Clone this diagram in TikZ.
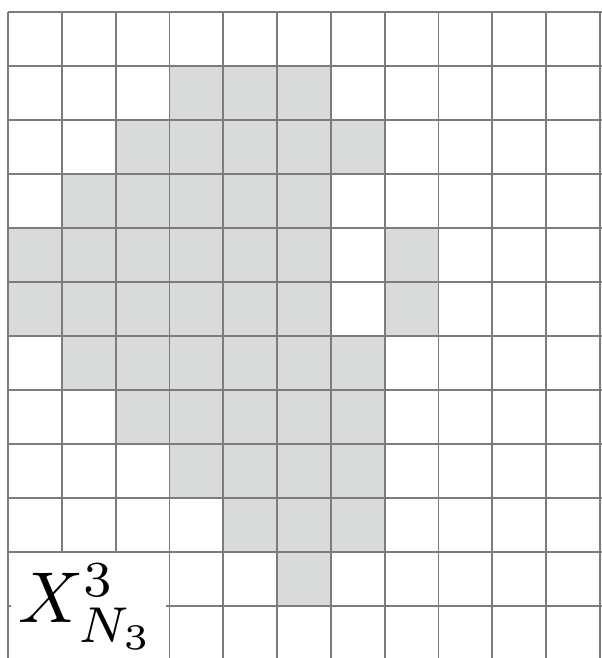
\documentclass[tikz,border=0pt]{standalone}
\usepackage{xcolor,tikz}
\usetikzlibrary{positioning}
\definecolor{GridLine}{HTML}{7C7C7C}
\definecolor{CellFill}{HTML}{D9DBDB}
\tikzset{gridline/.style={draw=GridLine,line width=1.8pt},
 cell/.style={fill=CellFill},
 labelbox/.style={fill=white},
 setlabel/.style={inner sep=0pt,anchor=base west}}
\begin{document}
\begin{tikzpicture}[x=53.8pt,y=-54pt]
\useasboundingbox (-0.149,-0.222) rectangle (11.022,11.963);
% Cells that belong to the set, row by row (first/last column).
\foreach \r/\a/\b in {1/3/5,2/2/6,3/1/5,4/0/5,5/0/5,6/1/6,7/2/6,8/3/6,9/4/6,10/5/5}{
 \fill[cell] (\a,\r) rectangle (\b+1,\r+1);
}
\fill[cell] (7,4) rectangle (8,6);
% The grid itself.
\foreach \x in {0,...,11}{
 \draw[gridline] (\x,0)--(\x,12.5);
}
\foreach \y in {0,...,12}{
 \draw[gridline] (0,\y)--(11.5,\y);
}
% Label in the lower left corner.
\fill[labelbox] (0.06,10.02) rectangle (2.94,12.5);
\node[setlabel] (lbl) at (0.19,11.3) {\scalebox{7.2}{$X^{3}_{N_3}$}};
\end{tikzpicture}
\end{document}
